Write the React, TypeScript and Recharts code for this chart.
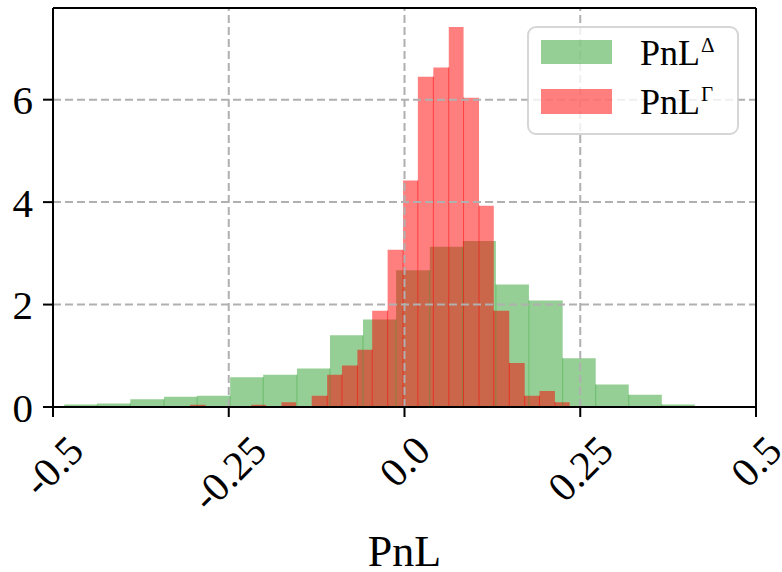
import React from 'react';
import {
  ComposedChart,
  Area,
  XAxis,
  YAxis,
  ReferenceLine,
  Legend,
} from 'recharts';

const FONT = '"Liberation Serif", "DejaVu Serif", serif';

// histogram bin edges and densities
const greenEdges = [
  -0.484, -0.437, -0.390, -0.342, -0.295, -0.248, -0.201, -0.153, -0.106, -0.059,
  -0.012, 0.036, 0.083, 0.130, 0.177, 0.225, 0.272, 0.319, 0.366, 0.413,
];
const greenDensity = [
  0.05, 0.07, 0.15, 0.2, 0.22, 0.58, 0.63, 0.75, 1.4, 1.71,
  2.67, 3.13, 3.24, 2.39, 2.08, 0.95, 0.44, 0.24, 0.05,
];

const redEdges = [
  -0.305, -0.283, -0.262, -0.240, -0.218, -0.197, -0.175, -0.154, -0.132, -0.110,
  -0.089, -0.067, -0.046, -0.024, -0.002, 0.019, 0.041, 0.063, 0.084, 0.106,
  0.127, 0.149, 0.171, 0.192, 0.214, 0.235,
];
const redDensity = [
  0.046, 0, 0, 0, 0.046, 0, 0.093, 0, 0.22, 0.63,
  0.81, 1.12, 1.88, 3.07, 4.42, 6.45, 6.63, 7.42, 6.04, 3.93,
  1.88, 0.86, 0.22, 0.31, 0.093,
];

const xTicks = [-0.5, -0.25, 0, 0.25, 0.5];
const xTickLabels = ['-0.5', '-0.25', '0.0', '0.25', '0.5'];
const yTicks = [0, 2, 4, 6];
const gridX = [-0.25, 0, 0.25];
const gridY = [2, 4, 6];
const Y_MAX = 7.79;

const GREEN = '#2ca02c';
const RED = '#ff0000';

type Pt = { x: number; g?: number; r?: number };

const buildData = () => {
  const map = new Map<number, Pt>();
  greenEdges.forEach((x, i) => {
    const p = map.get(x) || { x };
    p.g = i < greenDensity.length ? greenDensity[i] : 0;
    map.set(x, p);
  });
  redEdges.forEach((x, i) => {
    const p = map.get(x) || { x };
    p.r = i < redDensity.length ? redDensity[i] : 0;
    map.set(x, p);
  });
  return Array.from(map.values()).sort((a, b) => a.x - b.x);
};

const data = buildData();

// inner bin edges, drawn only where both neighbours exist
const edgeSegments = (edges: number[], dens: number[]) => {
  const out: { x: number; h: number }[] = [];
  for (let i = 1; i < dens.length; i++) {
    const h = Math.min(dens[i - 1], dens[i]);
    if (h > 0) out.push({ x: edges[i], h });
  }
  return out;
};

let ctx: CanvasRenderingContext2D | null = null;
const textWidth = (s: string, size: number) => {
  if (!ctx) ctx = document.createElement('canvas').getContext('2d');
  if (!ctx) return s.length * size * 0.45;
  ctx.font = `${size}px ${FONT}`;
  return ctx.measureText(s).width;
};

const XTick = (props: any) => {
  const { x, y, payload } = props;
  const idx = xTicks.indexOf(payload.value);
  const label = idx >= 0 ? xTickLabels[idx] : String(payload.value);
  const w = textWidth(label, 41);
  const cy = y + 26 + 0.354 * w;
  return (
    <text
      x={x}
      y={cy}
      textAnchor="middle"
      dominantBaseline="central"
      transform={`rotate(-45, ${x}, ${cy})`}
      fontSize={41}
      fontFamily={FONT}
      fill="#000"
    >
      {label}
    </text>
  );
};

const LegendBox = () => (
  <div style={{ width: 212, height: 109, position: 'relative' }}>
    <svg width={212} height={109} style={{ display: 'block' }}>
      <rect x={1} y={1} width={210} height={107} rx={8} ry={8}
        fill="rgba(255,255,255,0.8)" stroke="rgba(204,204,204,0.8)" strokeWidth={2} />
      <rect x={14} y={14} width={71} height={24} fill={GREEN} fillOpacity={0.5} />
      <rect x={14} y={63} width={71} height={25} fill={RED} fillOpacity={0.5} />
      <text x={113} y={39} fontSize={36} fontFamily={FONT} fill="#000">
        PnL<tspan dx={1} dy={-13} fontSize={21}>Δ</tspan>
      </text>
      <text x={113} y={88} fontSize={36} fontFamily={FONT} fill="#000">
        PnL<tspan dx={1} dy={-13} fontSize={21}>Γ</tspan>
      </text>
    </svg>
  </div>
);

export default function App() {
  const gridStyle = { stroke: '#b0b0b0', strokeWidth: 2, strokeDasharray: '8 4' };
  return (
    <div style={{ width: 782, height: 572, background: '#fff' }}>
      <style>{'body{margin:0;}'}</style>
      <ComposedChart
        width={782}
        height={572}
        data={data}
        margin={{ top: 8, right: 26, left: 0, bottom: 0 }}
      >
        <XAxis
          dataKey="x"
          type="number"
          domain={[-0.5, 0.5]}
          ticks={xTicks}
          interval={0}
          allowDataOverflow
          height={165}
          tickSize={10}
          tickMargin={0}
          axisLine={{ stroke: '#000', strokeWidth: 2 }}
          tickLine={{ stroke: '#000', strokeWidth: 2 }}
          tick={(p: any) => <XTick {...p} />}
          label={{
            value: 'PnL',
            position: 'insideBottom',
            offset: 6,
            fill: '#000',
            fontSize: 44,
            fontFamily: FONT,
          }}
        />
        <YAxis
          type="number"
          domain={[0, Y_MAX]}
          ticks={yTicks}
          allowDataOverflow
          width={53}
          tickSize={10}
          tickMargin={10}
          axisLine={{ stroke: '#000', strokeWidth: 2 }}
          tickLine={{ stroke: '#000', strokeWidth: 2 }}
          tick={{ fill: '#000', fontSize: 41, fontFamily: FONT }}
        />
        <Area
          type="stepAfter"
          dataKey="g"
          name="PnL Δ"
          stroke="none"
          fill={GREEN}
          fillOpacity={0.5}
          connectNulls
          dot={false}
          activeDot={false}
          isAnimationActive={false}
        />
        <Area
          type="stepAfter"
          dataKey="r"
          name="PnL Γ"
          stroke="none"
          fill={RED}
          fillOpacity={0.5}
          connectNulls
          dot={false}
          activeDot={false}
          isAnimationActive={false}
        />
        {edgeSegments(greenEdges, greenDensity).map((s) => (
          <ReferenceLine
            key={`g${s.x}`}
            segment={[{ x: s.x, y: 0 }, { x: s.x, y: s.h }]}
            stroke={GREEN}
            strokeOpacity={0.4}
            strokeWidth={1}
            ifOverflow="visible"
          />
        ))}
        {edgeSegments(redEdges, redDensity).map((s) => (
          <ReferenceLine
            key={`r${s.x}`}
            segment={[{ x: s.x, y: 0 }, { x: s.x, y: s.h }]}
            stroke={RED}
            strokeOpacity={0.5}
            strokeWidth={1}
            ifOverflow="visible"
          />
        ))}
        {gridX.map((v) => (
          <ReferenceLine key={`gx${v}`} x={v} {...gridStyle} />
        ))}
        {gridY.map((v) => (
          <ReferenceLine key={`gy${v}`} y={v} {...gridStyle} />
        ))}
        <ReferenceLine y={Y_MAX} stroke="#000" strokeWidth={2} />
        <ReferenceLine x={0.5} stroke="#000" strokeWidth={2} />
        <Legend
          layout="vertical"
          align="center"
          verticalAlign="middle"
          content={() => <LegendBox />}
          wrapperStyle={{ left: 527, top: 26, width: 212, height: 109 }}
        />
      </ComposedChart>
    </div>
  );
}
